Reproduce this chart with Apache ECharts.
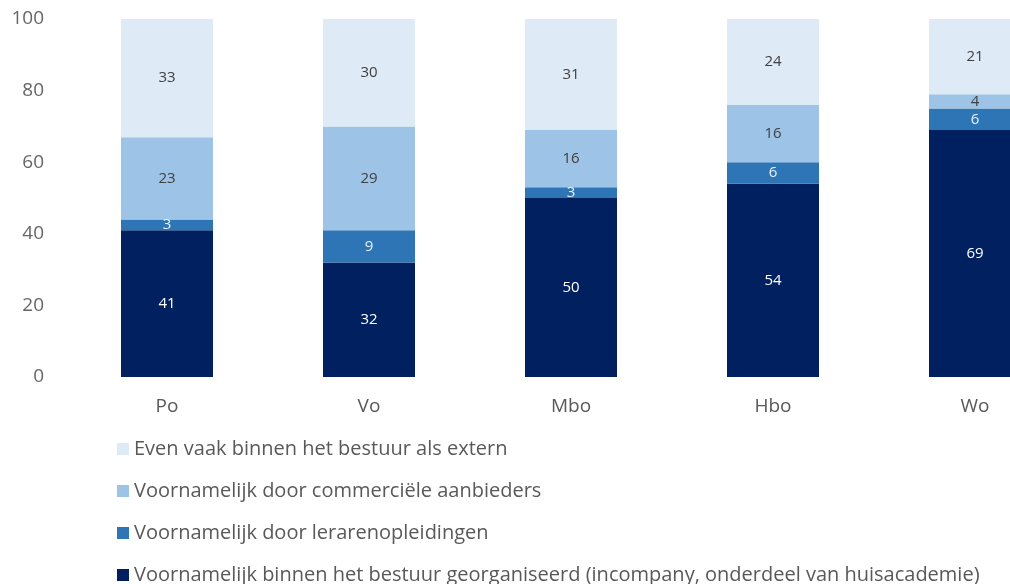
<!DOCTYPE html>
<html>
<head>
<meta charset="utf-8">
<script src="https://cdn.jsdelivr.net/npm/echarts@6/dist/echarts.min.js"></script>
<style>
html,body{margin:0;padding:0;background:#fff;overflow:hidden;}
/* iets breder/hoger dan het venster: de Wo-staaf loopt rechts buiten beeld */
#chart{width:1076px;height:610px;}
</style>
</head>
<body>
<div id="chart"></div>
<script>
// categorieen
var categories = ['Po', 'Vo', 'Mbo', 'Hbo', 'Wo'];
// reeksen (van onder naar boven)
var binnenBestuur = [41, 32, 50, 54, 69];
var lerarenopleidingen = [3, 9, 3, 6, 6];
var commercieel = [23, 29, 16, 16, 4];
var evenVaak = [33, 30, 31, 24, 21];
var yTicks = [0, 20, 40, 60, 80, 100];

var names = [
	'Voornamelijk binnen het bestuur georganiseerd (incompany, onderdeel van huisacademie)',
	'Voornamelijk door lerarenopleidingen',
	'Voornamelijk door commerciële aanbieders',
	'Even vaak binnen het bestuur als extern'
];
var colors = ['#002060', '#2e75b6', '#9dc3e6', '#deebf7'];
var labelColors = ['#ffffff', '#e8f1fa', '#404040', '#404040'];
var values = [binnenBestuur, lerarenopleidingen, commercieel, evenVaak];

var chart = echarts.init(document.getElementById('chart'));

var series = [];
for (var i = 0; i < values.length; i++) {
	series.push({
		name: names[i],
		type: 'bar',
		stack: 'totaal',
		barWidth: 92,
		data: values[i],
		itemStyle: {color: colors[i]},
		label: {
			show: true,
			position: 'inside',
			color: labelColors[i],
			fontSize: 15,
			fontFamily: 'Open Sans'
		}
	});
}

var option = {
	animation: false,
	color: colors,
	grid: {left: 66, top: 19, right: 0, bottom: 233},
	legend: {
		orient: 'vertical',
		left: 112,
		top: 434,
		itemGap: 22,
		itemWidth: 12,
		itemHeight: 12,
		icon: 'rect',
		data: names.slice().reverse(),
		textStyle: {fontSize: 20, lineHeight: 20, color: '#595959', fontFamily: 'Open Sans'}
	},
	xAxis: {
		type: 'category',
		data: categories,
		axisLine: {show: false},
		axisTick: {show: false},
		axisLabel: {fontSize: 19, color: '#595959', margin: 20, fontFamily: 'Open Sans'}
	},
	yAxis: {
		type: 'value',
		min: yTicks[0],
		max: yTicks[yTicks.length - 1],
		interval: 20,
		splitLine: {show: false},
		axisLine: {show: false},
		axisTick: {show: false},
		axisLabel: {fontSize: 19, color: '#666666', margin: 22, fontFamily: 'Open Sans'}
	},
	series: series
};

chart.setOption(option);
</script>
</body>
</html>
